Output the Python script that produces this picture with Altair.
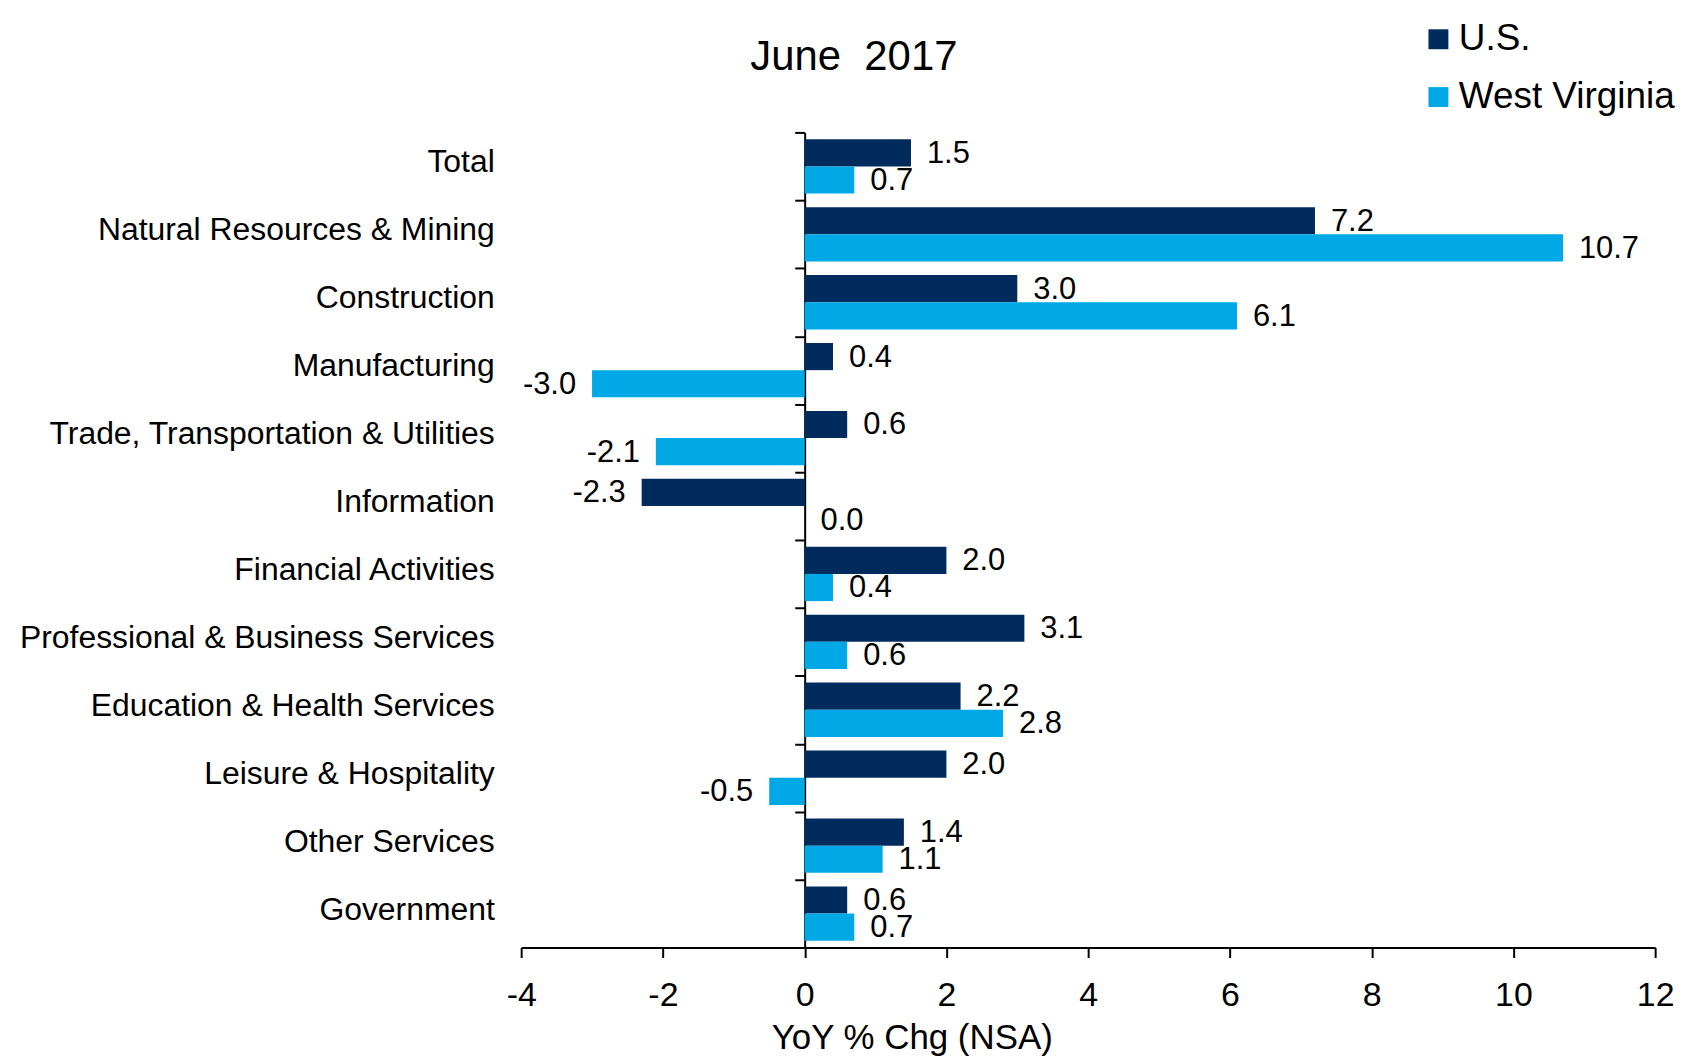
import altair as alt
import pandas as pd

categories = [
    "Total",
    "Natural Resources & Mining",
    "Construction",
    "Manufacturing",
    "Trade, Transportation & Utilities",
    "Information",
    "Financial Activities",
    "Professional & Business Services",
    "Education & Health Services",
    "Leisure & Hospitality",
    "Other Services",
    "Government",
]
us_values = [1.5, 7.2, 3.0, 0.4, 0.6, -2.3, 2.0, 3.1, 2.2, 2.0, 1.4, 0.6]
wv_values = [0.7, 10.7, 6.1, -3.0, -2.1, 0.0, 0.4, 0.6, 2.8, -0.5, 1.1, 0.7]
series = ["U.S.", "West Virginia"]
colors = ["#002B5C", "#00A9E5"]
x_ticks = [-4, -2, 0, 2, 4, 6, 8, 10, 12]

rows = []
for c, u, w in zip(categories, us_values, wv_values):
    rows.append({"category": c, "series": series[0], "value": u})
    rows.append({"category": c, "series": series[1], "value": w})
df = pd.DataFrame(rows)

W, H = 1138, 818
FONT = "Liberation Sans"

x_scale = alt.Scale(domain=[-4, 12], nice=False, zero=False)
x_enc = alt.X(
    "value:Q",
    scale=x_scale,
    axis=alt.Axis(
        values=x_ticks,
        labelExpr="'' + datum.value",
        labelFlush=False,
        title="YoY % Chg (NSA)",
        grid=False,
        domainColor="black",
        domainWidth=2,
        tickColor="black",
        tickWidth=2,
        tickSize=10,
        labelFontSize=34,
        labelPadding=21,
        labelColor="black",
        labelFont=FONT,
        titleFont=FONT,
        titleFontSize=35,
        titleFontWeight="normal",
        titleColor="black",
        titleX=392,
        titleY=101,
        titleBaseline="alphabetic",
        titleAlign="center",
    ),
)

y_labels = alt.Y(
    "category:N",
    sort=categories,
    scale=alt.Scale(paddingInner=0, paddingOuter=0),
    axis=alt.Axis(
        title=None,
        orient="left",
        domain=False,
        ticks=False,
        tickSize=0,
        labelFontSize=32,
        labelFont=FONT,
        labelColor="black",
        labelPadding=27,
        labelLimit=900,
        labelOffset=-4,
    ),
)

y_zero_axis = alt.Y(
    "category:N",
    sort=categories,
    axis=alt.Axis(
        title=None,
        orient="left",
        labels=False,
        domain=True,
        ticks=True,
        tickBand="extent",
        tickSize=10,
        tickWidth=2,
        tickColor="black",
        domainColor="black",
        domainWidth=2,
        offset=-W * 4 / 16,
    ),
)

y_plain = alt.Y("category:N", sort=categories, axis=None)

y_off = alt.YOffset(
    "series:N", sort=series, scale=alt.Scale(paddingOuter=0.25, paddingInner=0)
)

color_enc = alt.Color(
    "series:N",
    scale=alt.Scale(domain=series, range=colors),
    legend=alt.Legend(
        title=None,
        orient="none",
        legendX=902,
        legendY=-112,
        symbolType="square",
        symbolSize=400,
        symbolStrokeWidth=0,
        labelFontSize=37,
        labelFont=FONT,
        labelColor="black",
        labelOffset=2,
        labelLimit=800,
        rowPadding=20,
    ),
)

base = alt.Chart(df)

bars = base.mark_bar().encode(
    x=x_enc,
    x2=alt.datum(0),
    y=y_labels,
    yOffset=y_off,
    color=color_enc,
)

label_calc = "replace(format(datum.value, '.1f'), '\u2212', '-')"

pos_text = (
    base.transform_filter("datum.value >= 0")
    .transform_calculate(label=label_calc)
    .mark_text(align="left", baseline="middle", dx=16, dy=1, fontSize=31, font=FONT, color="black")
    .encode(
        x=alt.X("value:Q", scale=x_scale),
        y=y_zero_axis,
        yOffset=y_off,
        text="label:N",
    )
)

neg_text = (
    base.transform_filter("datum.value < 0")
    .transform_calculate(label=label_calc)
    .mark_text(align="right", baseline="middle", dx=-16, dy=1, fontSize=31, font=FONT, color="black")
    .encode(
        x=alt.X("value:Q", scale=x_scale),
        y=y_plain,
        yOffset=y_off,
        text="label:N",
    )
)

chart = (
    alt.layer(bars, pos_text, neg_text)
    .resolve_axis(y="independent")
    .properties(
        width=W,
        height=H,
        title=alt.TitleParams(
            "June\u00a0\u00a02017",
            fontSize=42,
            fontWeight="normal",
            font=FONT,
            color="black",
            anchor="start",
            frame="group",
            dx=230,
            dy=62,
        ),
        autosize=alt.AutoSizeParams(type="none"),
        padding={"left": 515, "top": 123, "right": 40, "bottom": 110},
    )
    .configure(background="white")
    .configure_view(strokeWidth=0, stroke="transparent")
)

chart.save("out.html", embed_options={"renderer": "svg", "actions": False})
